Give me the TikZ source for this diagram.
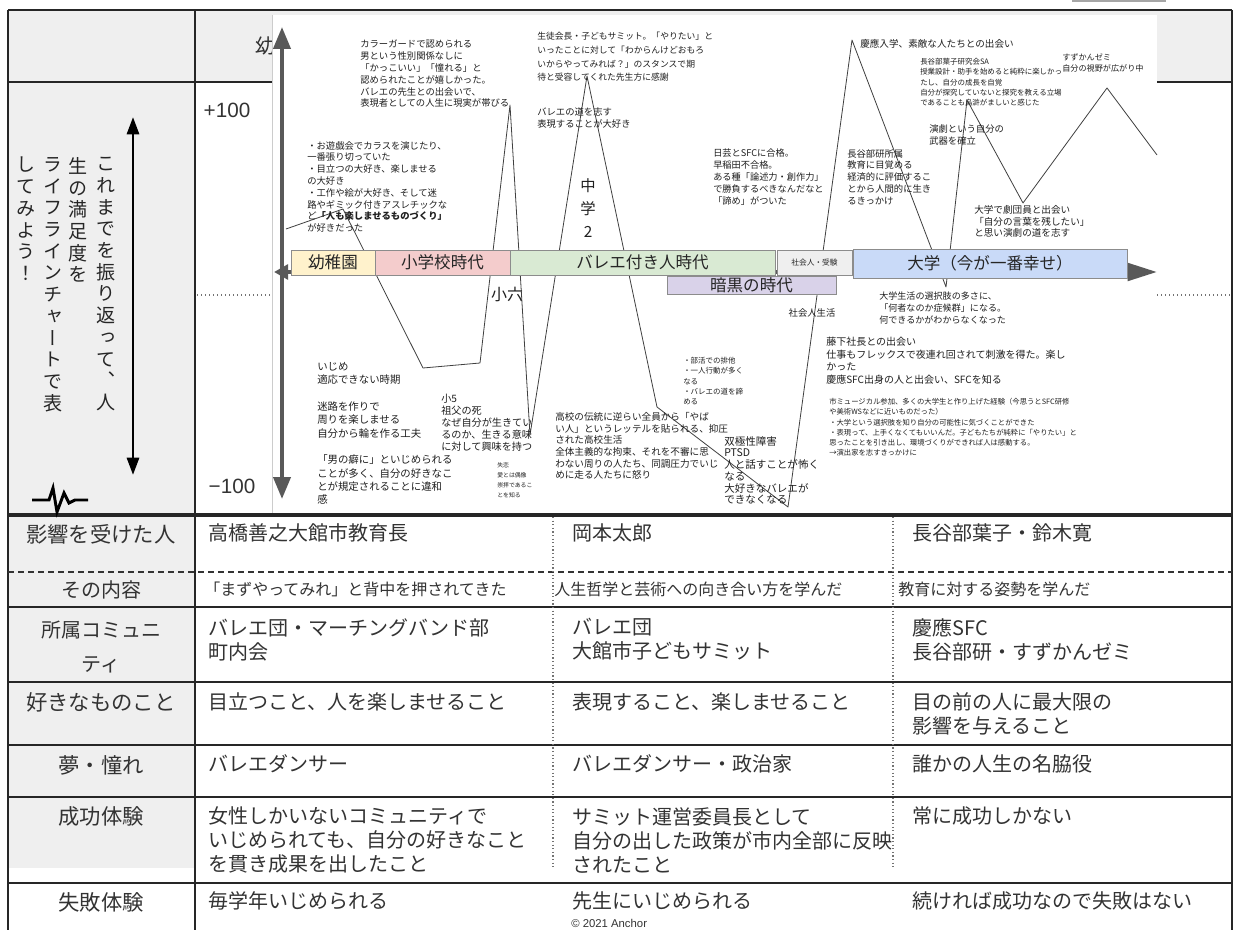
\documentclass[tikz,border=0pt]{standalone}
\usepackage{fontspec}
\setmainfont{Noto Sans CJK JP}
\newfontfamily\vfont[RawFeature=+vert]{Noto Sans CJK JP}
\newfontfamily\latfont{Liberation Sans}
\usetikzlibrary{arrows.meta}
\definecolor{cellgray}{HTML}{EFEFEF}
\definecolor{axisgray}{HTML}{595959}
\definecolor{txt}{HTML}{333333}
\definecolor{cyellow}{HTML}{FFF2CC}
\definecolor{cpink}{HTML}{F4CCCC}
\definecolor{cgreen}{HTML}{D9EAD3}
\definecolor{clgray}{HTML}{EFEFEF}
\definecolor{cblue}{HTML}{C9DAF8}
\definecolor{cpurple}{HTML}{D9D2E9}
\makeatletter
\newcommand\vcol[1]{\vbox{\baselineskip=16.3pt\lineskiplimit=-20pt\@tfor\vch:=#1\do{\hbox{\vch}}}}
\makeatother
\newcommand\fs[2]{\fontsize{#1}{#2}\selectfont}
\begin{document}
\begin{tikzpicture}[x=0.75pt,y=-0.75pt,
  ann/.style={anchor=north west, inner sep=0pt, align=left, text=black!88},
  lab/.style={inner sep=0pt, text=txt, font=\fs{16}{18}},
  cell/.style={anchor=west, inner sep=0pt, align=left, text=txt, font=\fs{15}{18}},
  bar/.style={draw=black!45, line width=0.6pt, inner sep=0pt, text=black!85, font=\fs{12.4}{14}},
  tline/.style={draw=black!85, line width=1.5pt},
  axisline/.style={draw=axisgray, line width=3pt},
  lifeline/.style={draw=black!75, line width=0.6pt, line join=round},
  dotline/.style={draw=black!55, line width=0.8pt, dash pattern=on 0.8pt off 2.2pt}]
\useasboundingbox (0,0) rectangle (1235,930);
\fill[white] (0,0) rectangle (1235,930);
% ---------- table background
\fill[cellgray] (8,10) rectangle (195,868);
\fill[cellgray] (195,10) rectangle (1232,82);
\fill[black!35] (1072,0) rectangle (1166,2);
% ---------- table lines
\draw[tline] (8,10) -- (1232,10);
\draw[tline] (8,10) -- (8,930);
\draw[tline] (1232,10) -- (1232,930);
\draw[tline] (195,10) -- (195,930);
\draw[tline] (8,82) -- (1232,82);
\draw[tline, line width=2.4pt] (8,515) -- (1232,515);
\draw[draw=black!80, line width=1.3pt, dash pattern=on 4.5pt off 3pt] (8,572) -- (1232,572);
\foreach \yy in {607,682,745,797,883} \draw[tline] (8,\yy) -- (1232,\yy);
\draw[dotline, line width=0.9pt, dash pattern=on 0.9pt off 1.8pt] (553,517) -- (553,868);
\draw[dotline, line width=0.9pt, dash pattern=on 0.9pt off 1.8pt] (893,517) -- (893,868);
% ---------- header text partly hidden by the chart
\node[text=txt, font=\fs{15}{15}, inner sep=0pt] (hdr) at (265,46) {幼};
% ---------- chart image
\fill[white] (272,15) rectangle (1157,513);
\draw[black!20] (272,15) -- (272,513);
% ---------- left column
\node[anchor=north, inner sep=0pt, text=black!85, font=\vfont\fs{14.3}{16.3}] (v1) at (106,157) {\vcol{これまでを振り返って、人}};
\node[anchor=north, inner sep=0pt, text=black!85, font=\vfont\fs{14.3}{16.3}] (v2) at (78,157) {\vcol{生の満足度を}};
\node[anchor=north, inner sep=0pt, text=black!85, font=\vfont\fs{14.3}{16.3}] (v3) at (53,157) {\vcol{ライフラインチャートで表}};
\node[anchor=north, inner sep=0pt, text=black!85, font=\vfont\fs{14.3}{16.3}] (v4) at (26,157) {\vcol{してみよう！}};
\coordinate (vtop) at (133,117);
\coordinate (vbot) at (133,475);
\draw[line width=2.2pt, {Triangle[length=13pt,width=9pt]}-{Triangle[length=13pt,width=9pt]}] (vtop) -- (vbot);
\draw[line width=2.2pt, line join=miter] (32,500) -- (49,500) -- (53,488) -- (57,512) -- (64,493) -- (69,503) -- (75,500) -- (88,500);
\node[text=txt, font=\latfont\fs{15.5}{16}, inner sep=0pt] (p100) at (227,110) {+100};
\node[text=txt, font=\latfont\fs{15.5}{16}, inner sep=0pt] (m100) at (232,486) {−100};
\draw[dotline] (197,295) -- (272,295);
\draw[dotline] (1157,295) -- (1232,295);
% ---------- axes
\coordinate (yt) at (282,27);
\coordinate (yb) at (282,499);
\coordinate (xl) at (274,272);
\coordinate (xr) at (1157,272);
\draw[axisline, {Triangle[length=16.5pt,width=12.75pt]}-{Triangle[length=16.5pt,width=12.75pt]}] (yt) -- (yb);
\draw[axisline, {Triangle[length=10.5pt,width=11pt]}-{Triangle[length=22pt,width=13pt]}] (xl) -- (xr);
% ---------- life line
\draw[lifeline] (286,229) -- (343,209) -- (423,368) -- (480,363) -- (510,105) -- (530,435) -- (587,76) -- (657,407) -- (788,507) -- (852,40) -- (946,287) -- (967,100) -- (1023,203) -- (1107,88) -- (1157,155);
% ---------- phase bars
\node[bar, fill=cyellow, minimum width=63pt, minimum height=18.75pt] (b1) at (333,262.5) {幼稚園};
\node[bar, fill=cpink, minimum width=101.25pt, minimum height=18.75pt] (b2) at (442.5,262.5) {小学校時代};
\node[bar, fill=cgreen, minimum width=198.75pt, minimum height=18.75pt] (b3) at (642.5,262.5) {バレエ付き人時代};
\node[bar, fill=clgray, minimum width=56.25pt, minimum height=18.75pt, font=\fs{5.8}{6}] (b4) at (814.5,262.5) {社会人・受験};
\node[bar, fill=cblue, minimum width=205.5pt, minimum height=21.75pt] (b5) at (990,263.5) {大学（今が一番幸せ）};
\node[bar, fill=cpurple, minimum width=126.75pt, minimum height=13.5pt] (b6) at (751.5,285) {暗黒の時代};
% ---------- labels on the chart
\node[inner sep=0pt, text=black!88, font=\fs{12}{12}] (s6) at (507,294) {小六};
\node[inner sep=0pt, text=black!88, font=\fs{11.5}{17}, align=center] (c2) at (588,208) {中\\学\\2};
\node[inner sep=0pt, text=black!88, font=\fs{7}{8}] (sk) at (812,313) {社会人生活};
% ---------- annotations
\node[ann, font=\fs{7}{8.85}] (a1) at (360,40) {カラーガードで認められる\\男という性別関係なしに\\「かっこいい」「憧れる」と\\認められたことが嬉しかった。\\バレエの先生との出会いで、\\表現者としての人生に現実が帯びる};
\node[ann, font=\fs{7}{8.85}] (a2) at (307,141) {・お遊戯会でカラスを演じたり、\\一番張り切っていた\\・目立つの大好き、楽しませる\\の大好き\\・工作や絵が大好き、そして迷\\路やギミック付きアスレチックな\\ど{\bfseries「人も楽しませるものづくり」}\\が好きだった};
\node[ann, font=\fs{6.6}{10.3}] (a3) at (537,32) {生徒会長・子どもサミット。「やりたい」と\\いったことに対して「わからんけどおもろ\\いからやってみれば？」のスタンスで期\\待と受容してくれた先生方に感謝};
\node[ann, font=\fs{7}{9.5}] (a4) at (537,107) {バレエの道を志す\\表現することが大好き};
\node[ann, font=\fs{6.9}{9.1}] (a5) at (713,148) {日芸とSFCに合格。\\早稲田不合格。\\ある種「論述力・創作力」\\で勝負するべきなんだなと\\「諦め」がついた};
\node[ann, font=\fs{7.2}{9}] (a6) at (860,39) {慶應入学、素敵な人たちとの出会い};
\node[ann, font=\fs{5.6}{7.7}] (a7) at (920,58) {長谷部葉子研究会SA\\授業設計・助手を始めると純粋に楽しかっ\\たし、自分の成長を自覚\\自分が探究していないと探究を教える立場\\であることも烏滸がましいと感じた};
\node[ann, font=\fs{6.1}{8.8}] (a8) at (1062,53) {すずかんゼミ\\自分の視野が広がり中};
\node[ann, font=\fs{7}{9.2}] (a9) at (929,124) {演劇という自分の\\武器を確立};
\node[ann, font=\fs{7}{8.85}] (a10) at (847,149) {長谷部研所属\\教育に目覚める\\経済的に評価するこ\\とから人間的に生き\\るきっかけ};
\node[ann, font=\fs{7.2}{8.85}] (a11) at (974,205) {大学で劇団員と出会い\\「自分の言葉を残したい」\\と思い演劇の道を志す};
\node[ann, font=\fs{6.8}{8.8}] (a12) at (879,292) {大学生活の選択肢の多さに、\\「何者なのか症候群」になる。\\何できるかがわからなくなった};
\node[ann, font=\fs{7.5}{9.5}] (a13) at (826,337) {藤下社長との出会い\\仕事もフレックスで夜連れ回されて刺激を得た。楽し\\かった\\慶應SFC出身の人と出会い、SFCを知る};
\node[ann, font=\fs{5.5}{7.7}] (a14) at (829,398) {市ミュージカル参加、多くの大学生と作り上げた経験（今思うとSFC研修\\や美術WSなどに近いものだった）\\・大学という選択肢を知り自分の可能性に気づくことができた\\・表現って、上手くなくてもいいんだ。子どもたちが純粋に「やりたい」と\\思ったことを引き出し、環境づくりができれば人は感動する。\\→演出家を志すきっかけに};
\node[ann, font=\fs{7.8}{10}] (a15) at (317,362) {いじめ\\適応できない時期\\\mbox{}\\迷路を作りで\\周りを楽しませる\\自分から輪を作る工夫\\\mbox{}\\「男の癖に」といじめられる\\ことが多く、自分の好きなこ\\とが規定されることに違和\\感};
\node[ann, font=\fs{7.6}{8.9}] (a16) at (441,394) {小5\\祖父の死\\なぜ自分が生きてい\\るのか、生きる意味\\に対して興味を持つ};
\node[ann, font=\fs{4.4}{7.5}] (a17) at (497,462) {失恋\\愛とは偶像\\崇拝であるこ\\とを知る};
\node[ann, font=\fs{7.2}{8.75}] (a18) at (555,412) {高校の伝統に逆らい全員から「やば\\い人」というレッテルを貼られる、抑圧\\された高校生活\\全体主義的な拘束、それを不審に思\\わない周りの人たち、同調圧力でいじ\\めに走る人たちに怒り};
\node[ann, font=\fs{5.6}{7.7}] (a19) at (683,357) {・部活での排他\\・一人行動が多く\\なる\\・バレエの道を諦\\める};
\node[ann, font=\fs{7.9}{8.8}] (a20) at (724,436) {双極性障害\\PTSD\\人と話すことが怖く\\なる\\大好きなバレエが\\できなくなる};
% ---------- table row labels
\node[lab] (l1) at (101,534) {影響を受けた人};
\node[lab, font=\fs{15}{18}] (l2) at (101,590) {その内容};
\node[lab, font=\fs{15}{25.5}, align=center] (l3) at (101,647) {所属コミュニ\\ティ};
\node[lab] (l4) at (101,702) {好きなものこと};
\node[lab] (l5) at (101,765) {夢・憧れ};
\node[lab] (l6) at (101,816) {成功体験};
\node[lab] (l7) at (101,902) {失敗体験};
% ---------- table cells
\node[cell] (r1a) at (208,533) {高橋善之大館市教育長};
\node[cell] (r1b) at (572,533) {岡本太郎};
\node[cell] (r1c) at (912,533) {長谷部葉子・鈴木寛};
\node[cell, font=\fs{12}{14}] (r2a) at (204,589) {「まずやってみれ」と背中を押されてきた};
\node[cell, font=\fs{12}{14}] (r2b) at (554,589) {人生哲学と芸術への向き合い方を学んだ};
\node[cell, font=\fs{12}{14}] (r2c) at (898,589) {教育に対する姿勢を学んだ};
\node[cell] (r3a) at (208,639.5) {バレエ団・マーチングバンド部\\町内会};
\node[cell] (r3b) at (572,639.5) {バレエ団\\大館市子どもサミット};
\node[cell] (r3c) at (912,639.5) {慶應SFC\\長谷部研・すずかんゼミ};
\node[cell] (r4a) at (208,702) {目立つこと、人を楽しませること};
\node[cell] (r4b) at (572,702) {表現すること、楽しませること};
\node[cell] (r4c) at (912,714) {目の前の人に最大限の\\影響を与えること};
\node[cell] (r5a) at (208,764) {バレエダンサー};
\node[cell] (r5b) at (572,764) {バレエダンサー・政治家};
\node[cell] (r5c) at (912,764) {誰かの人生の名脇役};
\node[cell] (r6a) at (208,840) {女性しかいないコミュニティで\\いじめられても、自分の好きなこと\\を貫き成果を出したこと};
\node[cell] (r6b) at (572,840) {サミット運営委員長として\\自分の出した政策が市内全部に反映\\されたこと};
\node[cell] (r6c) at (912,816) {常に成功しかない};
\node[cell] (r7a) at (208,901) {毎学年いじめられる};
\node[cell] (r7b) at (572,901) {先生にいじめられる};
\node[cell] (r7c) at (912,901) {続ければ成功なので失敗はない};
\node[cell, font=\latfont\fs{8.5}{9}] (copy) at (571,923) {© 2021 Anchor};
\end{tikzpicture}
\end{document}
